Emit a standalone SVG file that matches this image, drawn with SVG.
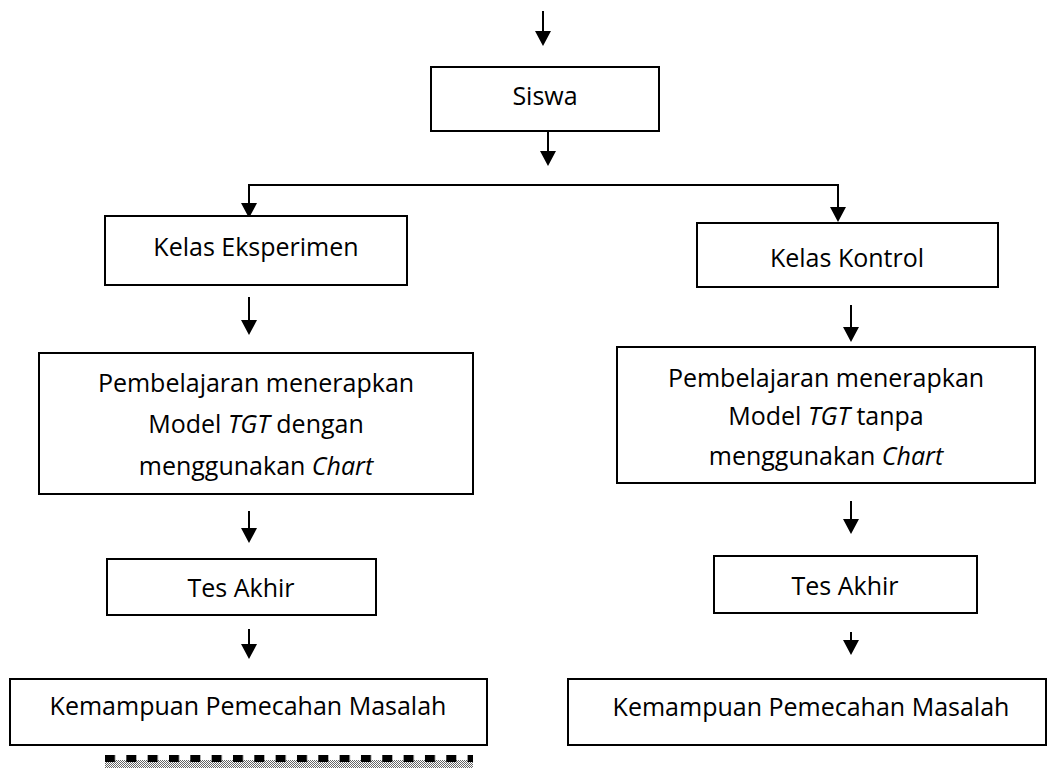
<svg xmlns="http://www.w3.org/2000/svg" width="1049" height="769" viewBox="0 0 1049 769">
<style>
.box{fill:#fff;stroke:#000;stroke-width:2}
.t{font-family:"Open Sans","Liberation Sans",sans-serif;font-size:25px;fill:#000;text-anchor:middle}
.i{font-style:italic}
.c{fill:none;stroke:#000;stroke-width:2}
</style>
<defs>
<marker id="ah" markerUnits="userSpaceOnUse" markerWidth="16" markerHeight="16" refX="7" refY="8" orient="auto">
<path d="M0,0 L15,8 L0,16 Z" fill="#000"/>
</marker>
<pattern id="dash" patternUnits="userSpaceOnUse" x="105" y="0" width="21.33" height="20">
<rect x="0" y="0" width="10" height="20" fill="#000"/>
</pattern>
<pattern id="dith" patternUnits="userSpaceOnUse" width="2" height="2">
<rect width="2" height="2" fill="#fff"/>
<rect width="1" height="1" fill="#666"/>
<rect x="1" y="1" width="1" height="1" fill="#666"/>
</pattern>
</defs>
<g id="connectors">
<line class="c" x1="543" y1="11" x2="543" y2="38" marker-end="url(#ah)"/>
<line class="c" x1="548" y1="131" x2="548" y2="158" marker-end="url(#ah)"/>
<polyline class="c" points="249,185 838,185 838,214" marker-end="url(#ah)"/>
<line class="c" x1="249" y1="184" x2="249" y2="210" marker-end="url(#ah)"/>
<line class="c" x1="249" y1="297" x2="249" y2="327" marker-end="url(#ah)"/>
<line class="c" x1="851" y1="305" x2="851" y2="334" marker-end="url(#ah)"/>
<line class="c" x1="249" y1="511" x2="249" y2="535" marker-end="url(#ah)"/>
<line class="c" x1="851" y1="501" x2="851" y2="526" marker-end="url(#ah)"/>
<line class="c" x1="249" y1="629" x2="249" y2="651" marker-end="url(#ah)"/>
<line class="c" x1="851" y1="632" x2="851" y2="647" marker-end="url(#ah)"/>
</g>
<g id="siswa">
<rect class="box" x="431" y="67" width="228" height="64"/>
<text class="t" x="545" y="105">Siswa</text>
</g>
<g id="kelas-eksperimen">
<rect class="box" x="105" y="216" width="302" height="69"/>
<text class="t" x="256" y="256">Kelas Eksperimen</text>
</g>
<g id="kelas-kontrol">
<rect class="box" x="697" y="223" width="301" height="64"/>
<text class="t" x="847" y="267">Kelas Kontrol</text>
</g>
<g id="pembelajaran-eksperimen">
<rect class="box" x="39" y="353" width="434" height="141"/>
<text class="t" x="256" y="392">Pembelajaran menerapkan</text>
<text class="t" x="256" y="433">Model <tspan class="i">TGT</tspan> dengan</text>
<text class="t" x="256" y="475">menggunakan <tspan class="i">Chart</tspan></text>
</g>
<g id="pembelajaran-kontrol">
<rect class="box" x="617" y="347" width="418" height="136"/>
<text class="t" x="826" y="387">Pembelajaran menerapkan</text>
<text class="t" x="826" y="425">Model <tspan class="i">TGT</tspan> tanpa</text>
<text class="t" x="826" y="465">menggunakan <tspan class="i">Chart</tspan></text>
</g>
<g id="tes-akhir-eksperimen">
<rect class="box" x="107" y="559" width="269" height="56"/>
<text class="t" x="241" y="597">Tes Akhir</text>
</g>
<g id="tes-akhir-kontrol">
<rect class="box" x="714" y="556" width="263" height="57"/>
<text class="t" x="845" y="595">Tes Akhir</text>
</g>
<g id="kemampuan-eksperimen">
<rect class="box" x="10" y="679" width="477" height="66"/>
<text class="t" x="248" y="715">Kemampuan Pemecahan Masalah</text>
</g>
<g id="kemampuan-kontrol">
<rect class="box" x="568" y="679" width="478" height="66"/>
<text class="t" x="811" y="716">Kemampuan Pemecahan Masalah</text>
</g>
<rect x="105" y="760" width="368" height="8" fill="url(#dith)"/>
<rect x="105" y="755" width="368" height="7" fill="url(#dash)"/>
</svg>
